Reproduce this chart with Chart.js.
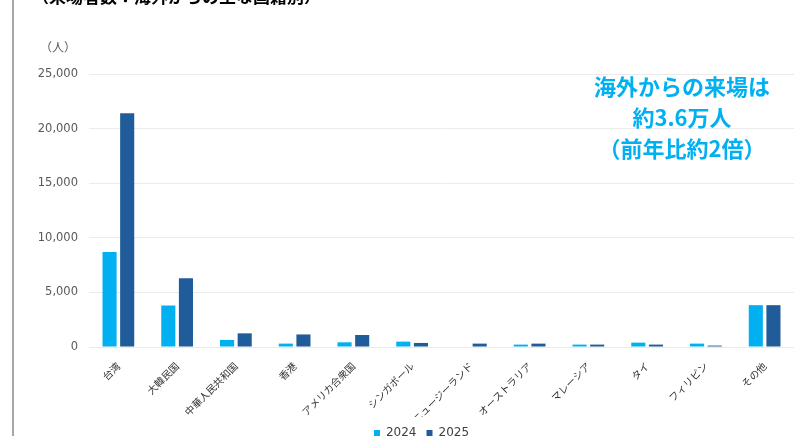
<!DOCTYPE html>
<html>
<head>
<meta charset="utf-8">
<script src="https://cdn.jsdelivr.net/npm/chart.js@4"></script>
<style>
  html, body { margin: 0; padding: 0; background: #fff; }
  #wrap { width: 794px; height: 436px; position: relative; }
</style>
</head>
<body>
<div id="wrap"><canvas id="visitorChart"></canvas></div>
<script>
// 来場者数（海外からの主な国籍別）
const countries = ['台湾', '大韓民国', '中華人民共和国', '香港', 'アメリカ合衆国', 'シンガポール',
    'ニュージーランド', 'オーストラリア', 'マレーシア', 'タイ', 'フィリピン', 'その他'];
const visitors2024 = [8700, 3800, 650, 310, 430, 490, 0, 220, 220, 400, 310, 3830];
const visitors2025 = [21400, 6300, 1250, 1150, 1100, 370, 310, 310, 220, 220, 130, 3830];
const yTicks = [0, 5000, 10000, 15000, 20000, 25000];
const noteLines = ['海外からの来場は', '約3.6万人', '（前年比約2倍）'];
const titleText = '（来場者数：海外からの主な国籍別）';

const jpFont = "'Noto Sans CJK JP', 'Noto Sans', sans-serif";
const numFont = "'DejaVu Sans', sans-serif";

// Extra drawing: clipped title, left rule, unit label, note text
const decorations = {
    id: 'decorations',
    afterLayout(chart) {
        // legend sits a little right of the canvas centre
        if (chart.legend) {
            chart.legend.left += 44;
        }
    },
    beforeDraw(chart) {
        const ctx = chart.ctx;
        ctx.save();
        ctx.fillStyle = '#ffffff';
        ctx.fillRect(0, 0, chart.width, chart.height);
        // left gray rule
        ctx.fillStyle = '#a6a6a6';
        ctx.fillRect(12, 0, 2, chart.height);
        // title, mostly outside the picture
        ctx.fillStyle = '#000000';
        ctx.font = 'bold 17px ' + jpFont;
        ctx.textBaseline = 'alphabetic';
        ctx.textAlign = 'left';
        ctx.fillText(titleText, 32, 3);
        // unit
        ctx.fillStyle = '#595959';
        ctx.font = '12px ' + jpFont;
        ctx.textAlign = 'center';
        ctx.textBaseline = 'middle';
        ctx.fillText('（人）', 58, 47);
        ctx.restore();
    },
    afterDraw(chart) {
        const ctx = chart.ctx;
        ctx.save();
        ctx.fillStyle = '#00B0F0';
        ctx.font = 'bold 22px ' + jpFont;
        ctx.textAlign = 'center';
        ctx.textBaseline = 'middle';
        noteLines.forEach((line, i) => {
            ctx.fillText(line, 682, 87 + i * 31);
        });
        ctx.restore();
    }
};

const visitorChart = new Chart(document.getElementById('visitorChart').getContext('2d'), {
    type: 'bar',
    data: {
        labels: countries,
        datasets: [{
            label: '2024',
            data: visitors2024,
            backgroundColor: '#00B0F0',
            borderWidth: 0,
            categoryPercentage: 0.6,
            barPercentage: 0.8
        }, {
            label: '2025',
            data: visitors2025,
            backgroundColor: '#1F5C99',
            borderWidth: 0,
            categoryPercentage: 0.6,
            barPercentage: 0.8
        }]
    },
    options: {
        responsive: true,
        maintainAspectRatio: false,
        animation: false,
        layout: {
            padding: { top: 74, left: 0, right: -5, bottom: -13 }
        },
        plugins: {
            tooltip: { enabled: false },
            legend: {
                position: 'bottom',
                labels: {
                    boxWidth: 6,
                    boxHeight: 6,
                    padding: 10,
                    color: '#404040',
                    font: { size: 12, family: numFont }
                }
            }
        },
        scales: {
            x: {
                grid: { display: false },
                border: { display: false },
                ticks: {
                    color: '#333333',
                    font: { size: 10, family: jpFont },
                    minRotation: 45,
                    maxRotation: 45,
                    autoSkip: false,
                    padding: 5
                },
                afterFit(scale) { scale.height = 70; }
            },
            y: {
                min: 0,
                max: 25000,
                afterBuildTicks(scale) {
                    scale.ticks = yTicks.map(v => ({ value: v }));
                },
                grid: { color: '#ebebeb', drawTicks: false, lineWidth: 1 },
                border: { display: false },
                ticks: {
                    color: '#595959',
                    padding: 11,
                    font: { size: 11.5, family: numFont },
                    callback: v => v.toLocaleString('en-US')
                },
                afterFit(scale) { scale.width = 89; }
            }
        }
    },
    plugins: [decorations]
});
</script>
</body>
</html>
